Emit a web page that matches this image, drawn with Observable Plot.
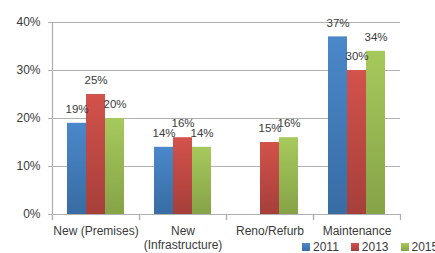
<!DOCTYPE html>
<html>
<head>
<meta charset="utf-8">
<script src="https://cdn.jsdelivr.net/npm/d3@7"></script>
<script src="https://cdn.jsdelivr.net/npm/@observablehq/plot@0.6"></script>
<style>
  html, body { margin: 0; padding: 0; background: #fff; overflow: hidden; }
  #wrap { position: relative; width: 435px; height: 253px; overflow: hidden; font-family: "Liberation Sans", Arial, sans-serif; }
  #legend { position: absolute; left: 302px; top: 230px; width: 220px; white-space: nowrap; }
  #legend span { margin-right: 12px !important; }
  #legend span svg { margin-right: 3px !important; }
</style>
</head>
<body>
<svg width="0" height="0" style="position:absolute">
  <defs>
    <linearGradient id="g2011" x1="0" y1="0" x2="0" y2="1">
      <stop offset="0" stop-color="#4b88ca"/><stop offset="1" stop-color="#386ca3"/>
    </linearGradient>
    <linearGradient id="g2013" x1="0" y1="0" x2="0" y2="1">
      <stop offset="0" stop-color="#d3524c"/><stop offset="1" stop-color="#a63f3a"/>
    </linearGradient>
    <linearGradient id="g2015" x1="0" y1="0" x2="0" y2="1">
      <stop offset="0" stop-color="#a6c95c"/><stop offset="1" stop-color="#86a347"/>
    </linearGradient>
  </defs>
</svg>
<div id="wrap"><div id="chart"></div><div id="legend"></div></div>
<script>
const categories = ["New (Premises)", "New\n(Infrastructure)", "Reno/Refurb", "Maintenance"];
const years = ["2011", "2013", "2015"];
const values2011 = [19, 14, null, 37];
const values2013 = [25, 16, 15, 30];
const values2015 = [20, 14, 16, 34];
const yTicks = [0, 10, 20, 30, 40];

const series = [values2011, values2013, values2015];
const data = [];
categories.forEach((c, i) => years.forEach((y, j) => {
  const v = series[j][i];
  if (v != null) data.push({category: c, year: y, value: v});
}));

const colorScale = {domain: years, range: ["url(#g2011)", "url(#g2013)", "url(#g2015)"]};
const textColor = "#3a3a3a";
const lineColor = "#b0b0b0";

const chart = Plot.plot({
  width: 435,
  height: 253,
  marginLeft: 51,
  marginRight: 35,
  marginTop: 22,
  marginBottom: 39,
  style: {fontFamily: "Liberation Sans, Arial, sans-serif", fontSize: "12px", color: textColor, background: "#fff"},
  fx: {domain: categories, padding: 0, label: null},
  x: {domain: years, paddingInner: 0, paddingOuter: 0.68, axis: null},
  y: {domain: [0, 40], label: null},
  color: colorScale,
  marks: [
    Plot.gridY(yTicks, {stroke: lineColor, strokeOpacity: 1, strokeWidth: 1.2}),
    Plot.axisY(yTicks, {tickFormat: d => d + "%", tickSize: 4, tickPadding: 8, stroke: lineColor, fill: textColor, fontSize: 12, label: null}),
    Plot.axisFx({anchor: "bottom", tickSize: 0, tickPadding: 11, fontSize: 12, fill: textColor, label: null, lineHeight: 1.15}),
    Plot.barY(data, {fx: "category", x: "year", y: "value", fill: "year"}),
    Plot.ruleY([0], {stroke: lineColor, strokeWidth: 1.2}),
    Plot.frame({anchor: "left", facetAnchor: "left", stroke: lineColor, strokeWidth: 1.2, insetBottom: -5}),
    Plot.frame({anchor: "left", stroke: lineColor, strokeWidth: 1.2, insetTop: 192, insetBottom: -5}),
    Plot.frame({anchor: "right", stroke: lineColor, strokeWidth: 1.2, insetTop: 192, insetBottom: -5}),
    Plot.text(data, {fx: "category", x: "year", y: "value", text: d => d.value + "%", dy: -14, fill: textColor, fontSize: 11.5})
  ]
});
document.getElementById("chart").appendChild(chart);

const legend = Plot.legend({
  color: colorScale,
  legend: "swatches",
  swatchSize: 8,
  style: {fontFamily: "Liberation Sans, Arial, sans-serif", fontSize: "12px", color: textColor}
});
document.getElementById("legend").appendChild(legend);
</script>
</body>
</html>
